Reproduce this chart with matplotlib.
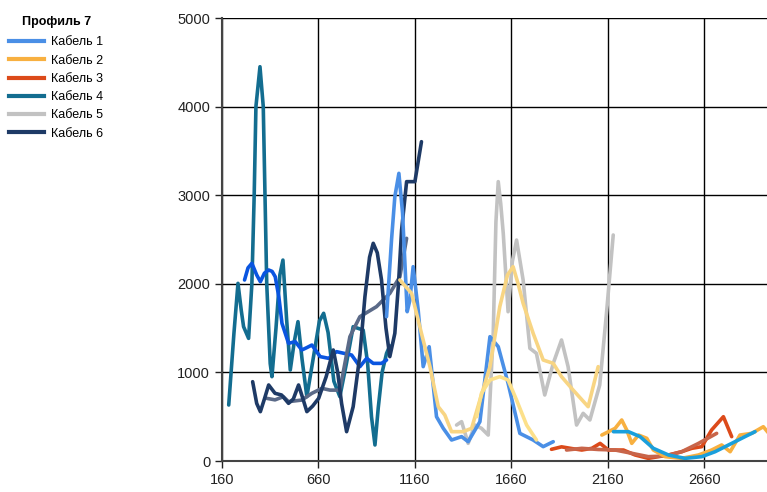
import matplotlib
matplotlib.use("Agg")
import matplotlib.pyplot as plt
from matplotlib.lines import Line2D

plt.rcParams["font.family"] = ["Liberation Sans", "DejaVu Sans"]

# Кабель 1 (light blue)
k1_x = [1013, 1039, 1056, 1077, 1096, 1120, 1134, 1151, 1177, 1203, 1234, 1272,
        1307, 1350, 1402, 1436, 1497, 1549, 1592, 1643, 1704, 1773, 1825, 1877]
k1_y = [1629, 2500, 2983, 3247, 2800, 1685, 1817, 2193, 1704, 1065, 1290, 500,
        369, 237, 275, 218, 444, 1403, 1290, 877, 312, 237, 162, 218]

# Кабель 2 (orange yellow)
k2_x = [2129, 2198, 2232, 2258, 2284, 2319, 2362, 2396, 2457, 2543, 2630, 2698,
        2750, 2794, 2845, 2906, 2966, 2994, 3020]
k2_y = [293, 369, 463, 350, 199, 293, 256, 124, 49, 30, 68, 124,
        181, 105, 293, 312, 387, 312, 290]

# Кабель 3 (red)
k3_x = [1868, 1920, 1975, 2025, 2077, 2120, 2163, 2241, 2301, 2370, 2474, 2543,
        2595, 2647, 2698, 2759, 2802]
k3_y = [132, 160, 140, 124, 143, 199, 124, 124, 68, 30, 68, 105,
        143, 162, 350, 500, 275]

# Кабель 4 (teal)
k4_x = [195, 222, 243, 260, 272, 298, 315, 327, 336, 357, 374, 383, 392, 410,
        419, 440, 460, 476, 495, 514, 535, 554, 575, 600, 640, 665, 687, 710,
        740, 771, 805, 840, 892, 915, 935, 953, 970, 990, 1013, 1030]
k4_y = [632, 1441, 2005, 1700, 1516, 1384, 2000, 3000, 4000, 4450, 4000, 3000,
        2000, 1100, 952, 1500, 2100, 2268, 1600, 1027, 1350, 1573, 1150, 726,
        1250, 1580, 1667, 1450, 900, 726, 1100, 1516, 1478, 1100, 500, 181,
        600, 1000, 1215, 1300]

# Кабель 5 (grey)
k5_x = [1376, 1402, 1436, 1471, 1505, 1540, 1566, 1580, 1592, 1605, 1618, 1643,
        1665, 1687, 1721, 1756, 1790, 1833, 1877, 1920, 1954, 1998, 2032, 2067,
        2118, 2153, 2188]
k5_y = [406, 444, 199, 406, 369, 293, 1441, 2700, 3153, 2900, 2569, 1685,
        2250, 2494, 2043, 1272, 1215, 745, 1102, 1366, 1065, 406, 538, 463,
        858, 1667, 2551]

# Кабель 6 (navy)
k6_x = [319, 340, 359, 380, 402, 435, 469, 505, 530, 557, 580, 600, 630, 661,
        700, 737, 760, 780, 806, 840, 875, 901, 925, 944, 965, 987, 1010, 1030,
        1056, 1075, 1091, 1117, 1160, 1194]
k6_y = [895, 650, 557, 700, 858, 764, 745, 651, 700, 858, 700, 557, 620, 707,
        951, 1253, 1000, 650, 331, 613, 1200, 1855, 2300, 2457, 2350, 2043,
        1500, 1178, 1441, 2000, 2607, 3153, 3153, 3604]

# unlabelled series
blue_x = [277, 295, 315, 340, 359, 380, 402, 420, 436, 455, 471, 505, 540, 574,
          600, 626, 669, 713, 754, 832, 875, 910, 944, 987, 1013]
blue_y = [2043, 2180, 2231, 2100, 2024, 2120, 2156, 2140, 2080, 1850, 1554,
          1328, 1347, 1253, 1280, 1309, 1178, 1159, 1234, 1196, 1065, 1159,
          1102, 1102, 1140]

slate_x = [393, 435, 478, 505, 574, 626, 678, 720, 771, 823, 875, 961, 1030,
           1082, 1117]
slate_y = [707, 690, 726, 670, 688, 764, 820, 800, 800, 1403, 1629, 1742,
           1892, 2080, 2513]

pale_a_x = [1082, 1143, 1194, 1238, 1281, 1315, 1350, 1410, 1454, 1497, 1549,
            1600, 1640, 1669, 1695, 1721, 1773, 1825, 1877, 1920, 1980, 2058,
            2110]
pale_a_y = [2043, 1892, 1441, 1065, 613, 519, 331, 331, 369, 688, 1065,
            1742, 2100, 2193, 2000, 1779, 1441, 1140, 1102, 952, 801, 613,
            1065]

pale_b_x = [1480, 1505, 1549, 1600, 1643, 1687, 1739, 1790]
pale_b_y = [500, 764, 914, 952, 914, 688, 406, 237]

cyan_x = [2189, 2267, 2327, 2396, 2474, 2560, 2647, 2716, 2802, 2871, 2923]
cyan_y = [331, 331, 275, 143, 68, 30, 49, 105, 199, 275, 331]

brown_x = [1946, 2025, 2110, 2198, 2284, 2370, 2457, 2543, 2630, 2724]
brown_y = [124, 143, 130, 124, 87, 49, 56, 105, 199, 312]

labels = ["Кабель 1", "Кабель 2", "Кабель 3", "Кабель 4", "Кабель 5", "Кабель 6"]
colors = ["#4a8fe6", "#f8b040", "#dc4a1a", "#136d90", "#c2c2c2", "#1e3a66"]

xticks = [160, 660, 1160, 1660, 2160, 2660]
yticks = [0, 1000, 2000, 3000, 4000, 5000]

fig = plt.figure(figsize=(7.67, 4.92), dpi=100)
ax = fig.add_axes([0.2894, 0.063, 0.7106, 0.9004])

kw = dict(lw=2.6, solid_capstyle="round", solid_joinstyle="round")
ax.plot(k4_x, k4_y, color=colors[3], **kw)
ax.plot(blue_x, blue_y, color="#0a55e0", **kw)
ax.plot(slate_x, slate_y, color="#5b6a88", **kw)
ax.plot(k6_x, k6_y, color=colors[5], **kw)
ax.plot(k5_x, k5_y, color=colors[4], **kw)
ax.plot(k1_x, k1_y, color=colors[0], **kw)
ax.plot(pale_a_x, pale_a_y, color="#f8d583", **kw)
ax.plot(pale_b_x, pale_b_y, color="#fce08a", **kw)
ax.plot(k3_x, k3_y, color=colors[2], **kw)
ax.plot(brown_x, brown_y, color="#c8654a", **kw)
ax.plot(k2_x, k2_y, color=colors[1], **kw)
ax.plot(cyan_x, cyan_y, color="#1a9fdc", **kw)

ax.set_xlim(160, 2985)
ax.set_ylim(0, 5000)
ax.set_xticks(xticks)
ax.set_yticks(yticks)
ax.tick_params(labelsize=10.5, length=5, width=1, colors="#222222")
ax.grid(True, color="black", lw=1)
ax.set_axisbelow(True)
for s in ["top", "right"]:
    ax.spines[s].set_visible(False)
for s in ["left", "bottom"]:
    ax.spines[s].set_color("#444444")
    ax.spines[s].set_linewidth(1.5)

handles = [Line2D([], [], color=c, lw=3) for c in colors]
leg = fig.legend(handles, labels, title="Профиль 7", loc="upper left",
                 bbox_to_anchor=(0.0, 0.985), frameon=False, fontsize=9,
                 title_fontsize=9, handlelength=2.8, handletextpad=0.6,
                 labelspacing=0.5, borderaxespad=0.3)
leg.get_title().set_fontweight("bold")
leg._legend_box.sep = 6

fig.savefig("out.png", dpi=100)
